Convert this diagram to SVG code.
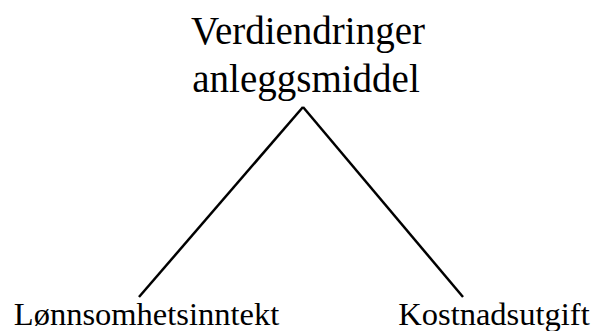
<svg xmlns="http://www.w3.org/2000/svg" width="591" height="331" viewBox="0 0 591 331">
<style>
text{font-family:"Liberation Serif","Times New Roman",serif;fill:#000;text-anchor:middle}
.t{font-size:39px}
.l{font-size:32.5px}
line{stroke:#000;stroke-width:2.5}
</style>
<rect width="591" height="331" fill="#fff"/>
<g id="connectors">
<line x1="303" y1="107" x2="139" y2="297"/>
<line x1="303" y1="107" x2="463" y2="297"/>
</g>
<g id="root"><text class="t" x="308" y="44">Verdiendringer</text><text class="t" x="306" y="92">anleggsmiddel</text></g>
<g id="left"><text class="l" x="146.5" y="325">Lønnsomhetsinntekt</text></g>
<g id="right"><text class="l" x="494" y="325">Kostnadsutgift</text></g>
</svg>
